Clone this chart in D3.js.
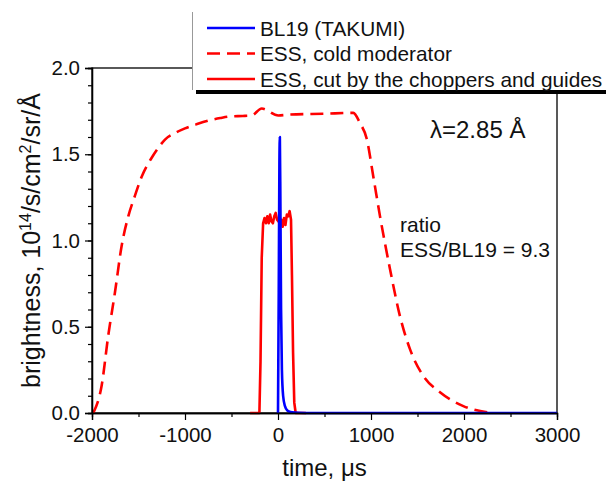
<!DOCTYPE html>
<html>
<head>
<meta charset="utf-8">
<script src="https://cdn.jsdelivr.net/npm/d3@7"></script>
<style>
    body { margin: 0; background: #fff; }
    svg { font-family: "Liberation Sans", Arial, sans-serif; }
</style>
</head>
<body>
<div id="chart"></div>
<script>

//******************************************************************************
//**  Data (time in microseconds, brightness in 10^14/s/cm2/sr/A)
//******************************************************************************
var essColdTime = [-1986,-1896,-1825,-1753,-1681,-1610,-1538,-1466,-1358,-1290,-1215,-1100,-1000,-870,-749,-620,-498,-380,-283,-175,3,129,500,810,882,954,1025,1097,1204,1312,1419,1562,1742,1993,2315];
var essColdValue = [0.00,0.16,0.45,0.70,0.97,1.14,1.26,1.37,1.48,1.535,1.585,1.625,1.65,1.675,1.695,1.71,1.72,1.722,1.725,1.765,1.725,1.73,1.735,1.74,1.68,1.59,1.37,1.14,0.835,0.56,0.37,0.215,0.12,0.04,0.0];

var essCutTime = [-300,-200,-188,-175,-160,-145,-130,-115,-100,-85,-70,-55,-40,-25,-10,5,20,35,50,65,80,95,110,125,140,150,162,175,190,300];
var essCutValue = [0,0,0.3,0.9,1.10,1.13,1.10,1.14,1.10,1.15,1.11,1.10,1.14,1.16,1.12,1.11,1.10,1.12,1.08,1.13,1.09,1.15,1.14,1.17,1.12,0.8,0.35,0.06,0,0];

var bl19Time = [0,8,15,20,26,33,42,55,75,100,150,300,3000];
var bl19Value = [0,0.7,1.45,1.6,1.2,0.6,0.25,0.1,0.04,0.015,0.004,0,0];

var xTicks = [-2000,-1000,0,1000,2000,3000];
var yTicks = [0.0,0.5,1.0,1.5,2.0];
var legendLabels = ["BL19 (TAKUMI)","ESS, cold moderator","ESS, cut by the choppers and guides"];

//******************************************************************************
//**  Chart
//******************************************************************************
var width = 606, height = 485;
var margin = {top: 68, right: 49, bottom: 72, left: 92};
var plotW = width - margin.left - margin.right;
var plotH = height - margin.top - margin.bottom;

var svg = d3.select("#chart").append("svg")
    .attr("width", width)
    .attr("height", height);

var x = d3.scaleLinear().domain([-2000,3000]).range([margin.left, margin.left + plotW]);
var y = d3.scaleLinear().domain([0,2]).range([margin.top + plotH, margin.top]);

var plot = svg.append("g");

// frame
plot.append("rect")
    .attr("x", x(-2000)).attr("y", y(2))
    .attr("width", plotW).attr("height", plotH)
    .attr("fill", "none").attr("stroke", "#000").attr("stroke-width", 1.3);

// x axis
svg.append("g")
    .attr("transform", "translate(0," + y(0) + ")")
    .call(d3.axisBottom(x).tickValues(xTicks).tickSize(7).tickPadding(7).tickFormat(function(d){ return String(d); }));
svg.append("g")
    .attr("transform", "translate(0," + y(0) + ")")
    .call(d3.axisBottom(x).tickValues(d3.range(-1500,3000,1000)).tickSize(4).tickFormat(""));

// y axis
svg.append("g")
    .attr("transform", "translate(" + x(-2000) + ",0)")
    .call(d3.axisLeft(y).tickValues(yTicks).tickSize(7).tickPadding(5).tickFormat(d3.format(".1f")));
svg.append("g")
    .attr("transform", "translate(" + x(-2000) + ",0)")
    .call(d3.axisLeft(y).tickValues(d3.range(0,2.01,0.1)).tickSize(4).tickFormat(""));

svg.selectAll(".domain").attr("stroke", "#000").attr("stroke-width", 1.3);
svg.selectAll(".tick line").attr("stroke", "#000").attr("stroke-width", 1.2);
svg.selectAll(".tick text")
    .attr("font-size", 20.5)
    .attr("font-family", "Liberation Sans, Arial, sans-serif")
    .attr("fill", "#111");

// axis titles
svg.append("text")
    .attr("x", x(500)).attr("y", 476)
    .attr("text-anchor", "middle")
    .attr("font-size", 24)
    .attr("fill", "#111")
    .text("time, \u03bcs");

var yTitle = svg.append("text")
    .attr("transform", "translate(40," + y(1) + ") rotate(-90)")
    .attr("text-anchor", "middle")
    .attr("font-size", 25)
    .attr("fill", "#111");
yTitle.append("tspan").text("brightness, 10");
yTitle.append("tspan").attr("dy", -9).attr("font-size", 16).text("14");
yTitle.append("tspan").attr("dy", 9).text("/s/cm");
yTitle.append("tspan").attr("dy", -9).attr("font-size", 16).text("2");
yTitle.append("tspan").attr("dy", 9).text("/sr/\u00c5");

// lines
var line = d3.line()
    .x(function(d){ return x(d[0]); })
    .y(function(d){ return y(d[1]); });

var essCold = d3.zip(essColdTime, essColdValue);
var essCut = d3.zip(essCutTime, essCutValue);
var bl19 = d3.zip(bl19Time, bl19Value);

plot.append("path").datum(essCold)
    .attr("d", line.curve(d3.curveMonotoneX))
    .attr("fill", "none").attr("stroke", "#ff0000")
    .attr("stroke-width", 2.6).attr("stroke-dasharray", "13,7");

plot.append("path").datum(essCut)
    .attr("d", line.curve(d3.curveLinear))
    .attr("fill", "none").attr("stroke", "#ff0000")
    .attr("stroke-width", 2.6).attr("stroke-linejoin", "round");

plot.append("path").datum(bl19)
    .attr("d", line.curve(d3.curveMonotoneX))
    .attr("fill", "none").attr("stroke", "#0000ff")
    .attr("stroke-width", 2.6).attr("stroke-linejoin", "round");

// annotations
svg.append("text")
    .attr("x", 430).attr("y", 138)
    .attr("font-size", 24)
    .attr("fill", "#111")
    .text("\u03bb=2.85 \u00c5");

svg.append("text")
    .attr("x", 400).attr("y", 232)
    .attr("font-size", 21)
    .attr("fill", "#111")
    .text("ratio");
svg.append("text")
    .attr("x", 400).attr("y", 257)
    .attr("font-size", 21)
    .attr("fill", "#111")
    .text("ESS/BL19 = 9.3");

//******************************************************************************
//**  Legend
//******************************************************************************
var legend = svg.append("g");
legend.append("rect")
    .attr("x", 196).attr("y", 17)
    .attr("width", 420).attr("height", 77)
    .attr("fill", "#000");
legend.append("rect")
    .attr("x", 192).attr("y", 12)
    .attr("width", 420).attr("height", 78)
    .attr("fill", "#fff");
legend.append("line")
    .attr("x1", 192.5).attr("x2", 192.5)
    .attr("y1", 12).attr("y2", 90)
    .attr("stroke", "#999").attr("stroke-width", 1);

var legendStyles = [
    {color: "#0000ff", dash: null},
    {color: "#ff0000", dash: "13,7"},
    {color: "#ff0000", dash: null}
];
legendLabels.forEach(function(label, i){
    var ly = 28 + i * 25.5;
    legend.append("line")
        .attr("x1", 207).attr("x2", 255)
        .attr("y1", ly).attr("y2", ly)
        .attr("stroke", legendStyles[i].color)
        .attr("stroke-width", 2.6)
        .attr("stroke-dasharray", legendStyles[i].dash);
    legend.append("text")
        .attr("x", 260).attr("y", ly + 7.5)
        .attr("font-size", 20.8)
        .attr("fill", "#111")
        .text(label);
});

</script>
</body>
</html>
